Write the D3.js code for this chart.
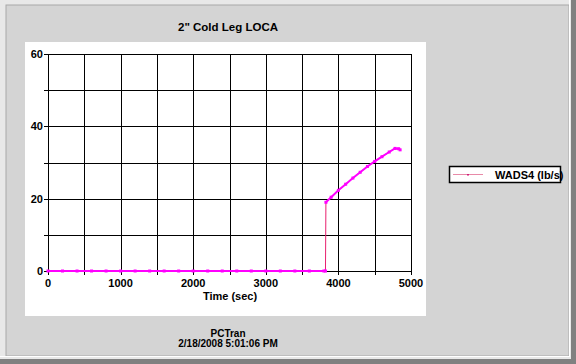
<!DOCTYPE html>
<html>
<head>
<meta charset="utf-8">
<script src="https://cdn.jsdelivr.net/npm/d3@7"></script>
<style>
  body { margin: 0; background: #d4d4d4; }
  text { font-family: Arial, "Liberation Sans", sans-serif; font-weight: bold; fill: #000; }
</style>
</head>
<body>
<div id="graph"></div>
<script>
// --------------------------------------
//  Data
// --------------------------------------

const timeSec = [0, 200, 400, 600, 800, 1000, 1200, 1400, 1600, 1800, 2000, 2200, 2400, 2600,
  2800, 3000, 3200, 3400, 3600, 3800, 3822, 3828, 3900, 4000, 4100, 4200, 4300, 4400,
  4500, 4600, 4700, 4780, 4830, 4850];
const wads4 = [0, 0, 0, 0, 0, 0, 0, 0, 0, 0, 0, 0, 0, 0,
  0, 0, 0, 0, 0, 0, 0, 19.0, 20.4, 22.3, 24.0, 25.7, 27.3, 28.9,
  30.3, 31.6, 32.9, 33.9, 33.8, 33.5];

const xTicks = [0, 1000, 2000, 3000, 4000, 5000];
const yTicks = [0, 20, 40, 60];
const seriesName = "WADS4 (lb/s)";
const title = "2\" Cold Leg LOCA";
const footer = ["PCTran", "2/18/2008 5:01:06 PM"];

// --------------------------------------
//  Canvas
// --------------------------------------

const W = 576, H = 364;
const plot = { left: 48, right: 411, top: 54, bottom: 271 };

const svg = d3.select("#graph").append("svg")
  .attr("width", W).attr("height", H);

// window frame
svg.append("rect").attr("width", W).attr("height", H).attr("fill", "#e8e8e8");
svg.append("rect").attr("x", 6).attr("y", 5).attr("width", 563).attr("height", 351)
  .attr("fill", "#d4d4d4").attr("stroke", "#a8a8a8");
svg.append("line").attr("x1", 569.5).attr("x2", 569.5).attr("y1", 0).attr("y2", 357)
  .attr("stroke", "#fff");
svg.append("line").attr("x1", 0).attr("x2", 570).attr("y1", 356.5).attr("y2", 356.5)
  .attr("stroke", "#fff");
svg.append("rect").attr("x", 571).attr("y", 0).attr("width", 5).attr("height", H).attr("fill", "#808080");
svg.append("rect").attr("x", 0).attr("y", 359).attr("width", W).attr("height", 5).attr("fill", "#808080");

// white chart panel
svg.append("rect").attr("x", 25).attr("y", 42).attr("width", 401).attr("height", 274)
  .attr("fill", "#fff");

// --------------------------------------
//  Scales and axes
// --------------------------------------

const x = d3.scaleLinear().domain([0, 5000]).range([plot.left, plot.right]);
const y = d3.scaleLinear().domain([0, 60]).range([plot.bottom, plot.top]);

const grid = svg.append("g").attr("stroke", "#000").attr("stroke-width", 1);
d3.range(0, 5001, 500).forEach(v => {
  const px = Math.round(x(v)) + 0.5;
  grid.append("line").attr("x1", px).attr("x2", px)
    .attr("y1", plot.top).attr("y2", plot.bottom + 4);
});
d3.range(0, 61, 10).forEach(v => {
  const py = Math.round(y(v)) + 0.5;
  grid.append("line").attr("x1", plot.left - 4).attr("x2", plot.right)
    .attr("y1", py).attr("y2", py);
});

svg.append("g").selectAll("text").data(yTicks).join("text")
  .attr("x", plot.left - 5).attr("y", d => y(d)).attr("dy", "0.35em")
  .attr("text-anchor", "end").attr("font-size", 11).text(d => d);

svg.append("g").selectAll("text").data(xTicks).join("text")
  .attr("x", d => x(d)).attr("y", plot.bottom + 16)
  .attr("text-anchor", "middle").attr("font-size", 11).text(d => d);

svg.append("text").attr("x", 230).attr("y", 300).attr("text-anchor", "middle")
  .attr("font-size", 11).text("Time (sec)");

svg.append("text").attr("x", 228).attr("y", 31).attr("text-anchor", "middle")
  .attr("font-size", 11.5).text(title);

svg.append("g").selectAll("text").data(footer).join("text")
  .attr("x", 228).attr("y", (d, i) => 337 + i * 10).attr("text-anchor", "middle")
  .attr("font-size", 10).attr("font-weight", "normal").text(d => d);

// --------------------------------------
//  Series
// --------------------------------------

const pts = timeSec.map((t, i) => [t, wads4[i]]);
const line = d3.line().x(d => x(d[0])).y(d => y(d[1]));
const jumpAt = wads4.findIndex(v => v > 0);

// thin line through all points (shows the vertical jump)
svg.append("path").datum(pts).attr("d", line)
  .attr("fill", "none").attr("stroke", "#e8206e").attr("stroke-width", 1);
// heavier marker trail on the flat and rising parts
[pts.slice(0, jumpAt), pts.slice(jumpAt)].forEach(seg => {
  svg.append("path").datum(seg).attr("d", line)
    .attr("fill", "none").attr("stroke", "#ff00ff").attr("stroke-width", 2);
});
svg.append("g").selectAll("rect").data(pts).join("rect")
  .attr("x", d => x(d[0]) - 1.5).attr("y", d => y(d[1]) - 1.5)
  .attr("width", 3).attr("height", 3).attr("fill", "#ff00ff");

// --------------------------------------
//  Legend
// --------------------------------------

const lg = svg.append("g");
lg.append("rect").attr("x", 449.5).attr("y", 166.5).attr("width", 111).attr("height", 16)
  .attr("fill", "#fff").attr("stroke", "#000").attr("stroke-width", 1.5);
lg.append("line").attr("x1", 453).attr("x2", 483).attr("y1", 174.5).attr("y2", 174.5)
  .attr("stroke", "#e88aa8").attr("stroke-width", 1);
lg.append("rect").attr("x", 467).attr("y", 174).attr("width", 2).attr("height", 1.5)
  .attr("fill", "#d0207a");
lg.append("text").attr("x", 495).attr("y", 178.5).attr("font-size", 11).text(seriesName);
</script>
</body>
</html>
